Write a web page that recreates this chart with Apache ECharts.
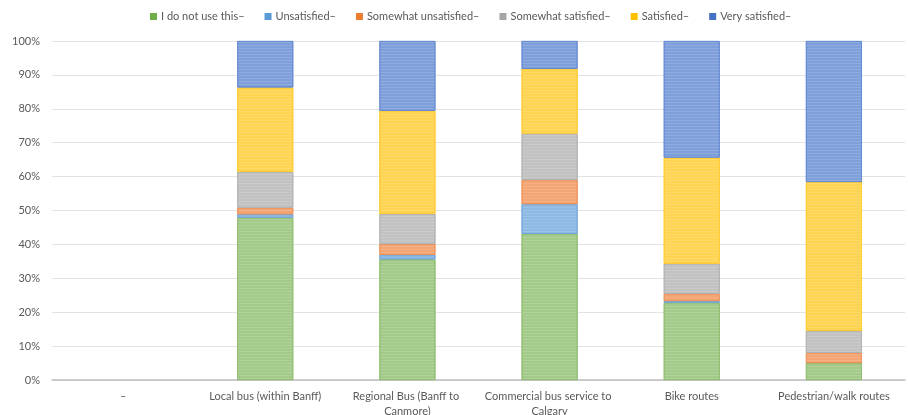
<!DOCTYPE html>
<html>
<head>
<meta charset="utf-8">
<script src="https://cdn.jsdelivr.net/npm/echarts@6/dist/echarts.min.js"></script>
<style>
  html, body { margin: 0; padding: 0; background: #ffffff; }
  #chart { width: 908px; height: 415px; }
</style>
</head>
<body>
<div id="chart"></div>
<script>
// Transport services rated by satisfaction (share of respondents, %)
const categories = [
  '–',
  'Local bus (within Banff)',
  'Regional Bus (Banff to Canmore)',
  'Commercial bus service to Calgary',
  'Bike routes',
  'Pedestrian/walk routes'
];

const seriesNames = [
  'I do not use this–',
  'Unsatisfied–',
  'Somewhat unsatisfied–',
  'Somewhat satisfied–',
  'Satisfied–',
  'Very satisfied–'
];

const doNotUse          = [0, 47.9, 35.6, 43.1, 22.8, 5.0];
const unsatisfied       = [0, 1.0, 1.3, 8.8, 0.5, 0.0];
const somewhatUnsat     = [0, 1.9, 3.2, 7.1, 2.1, 3.0];
const somewhatSatisfied = [0, 10.6, 8.9, 13.7, 8.9, 6.5];
const satisfied         = [0, 24.9, 30.4, 19.1, 31.3, 43.9];
const verySatisfied     = [0, 13.7, 20.6, 8.2, 34.4, 41.6];

const yTicks = [0, 10, 20, 30, 40, 50, 60, 70, 80, 90, 100];

const seriesValues = [doNotUse, unsatisfied, somewhatUnsat, somewhatSatisfied, satisfied, verySatisfied];
const fills   = ['#a4ca8a', '#8fb9e3', '#f3a573', '#c2c2c2', '#ffd452', '#7f9fdb'];
const borders = ['#8cbd6c', '#6fa5db', '#ee8f55', '#b0b0b0', '#ffc929', '#6188d2'];
const legendIcons = ['#70ad47', '#5b9bd5', '#ed7d31', '#a5a5a5', '#ffc000', '#4472c4'];

const chart = echarts.init(document.getElementById('chart'), null, { renderer: 'canvas' });

const series = seriesNames.map((name, i) => ({
  name: name,
  type: 'bar',
  stack: 'total',
  barWidth: '39.4%',
  data: seriesValues[i].map(v => (v > 0 ? v : null)),
  itemStyle: {
    color: fills[i],
    borderColor: borders[i],
    borderWidth: 0.8,
    decal: {
      symbol: 'rect',
      symbolSize: 1,
      dashArrayX: [1, 0],
      dashArrayY: [1, 2],
      rotation: 0,
      color: 'rgba(255,255,255,0.13)'
    }
  },
  emphasis: { disabled: true }
}));

chart.setOption({
  animation: false,
  backgroundColor: '#ffffff',
  textStyle: { fontFamily: 'Lato, "Open Sans", sans-serif' },
  legend: {
    top: 6,
    left: 145,
    itemWidth: 7,
    itemHeight: 7,
    itemGap: 20,
    icon: 'rect',
    data: seriesNames.map((n, i) => ({ name: n, itemStyle: { color: legendIcons[i], borderWidth: 0, decal: 'none' } })),
    textStyle: { color: '#595959', fontSize: 11, padding: [0, 0, 0, -1] }
  },
  grid: { left: 52, right: 3, top: 41, bottom: 35, containLabel: false, outerBoundsMode: 'none' },
  xAxis: {
    type: 'category',
    data: categories,
    axisLine: { show: true, lineStyle: { color: '#bfbfbf', width: 1.5 } },
    axisTick: { show: false },
    axisLabel: {
      color: '#595959',
      fontSize: 11,
      margin: 9,
      width: 138,
      overflow: 'break',
      lineHeight: 15,
      interval: 0
    }
  },
  yAxis: {
    type: 'value',
    min: 0,
    max: 100,
    interval: 10,
    axisLine: { show: false },
    axisTick: { show: false },
    splitLine: { lineStyle: { color: '#e3e3e3', width: 1.2 } },
    axisLabel: {
      color: '#595959',
      fontSize: 11,
      margin: 12,
      formatter: v => (yTicks.includes(v) ? v + '%' : '')
    }
  },
  series: series
});
</script>
</body>
</html>
